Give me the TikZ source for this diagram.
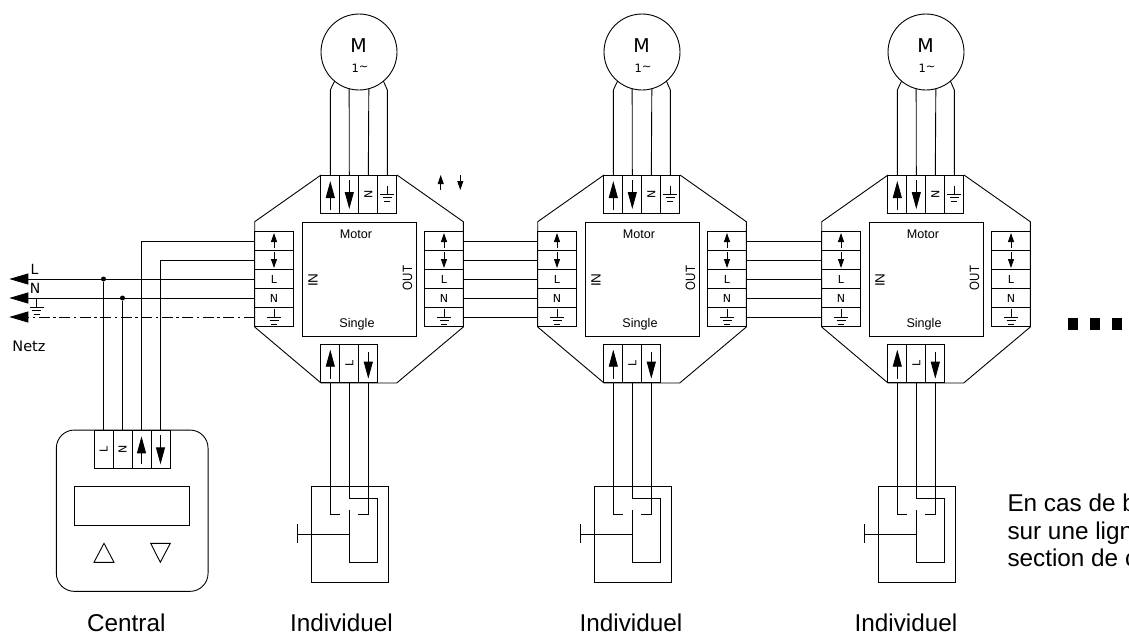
\documentclass[tikz,border=0pt]{standalone}
\usepackage{graphicx}
\usepackage{fontspec}
\setmainfont{Liberation Sans}
\newfontfamily\dejavu{DejaVu Sans}
\usetikzlibrary{arrows.meta,positioning}

\tikzset{
  wire/.style={line width=0.9pt},
  upsm/.style={line width=0.9pt,-{Triangle[length=9pt,width=6pt]}},
  upbig/.style={line width=0.9pt,-{Triangle[length=17pt,width=9pt]}},
  netarrow/.style={line width=0.9pt,-{Triangle[length=19pt,width=11pt]}},
  cellv/.style={draw,line width=0.9pt,inner sep=0pt,outer sep=0pt,minimum width=19pt,minimum height=38pt,font=\dejavu\fontsize{11}{11}\selectfont},
  cellh/.style={draw,line width=0.9pt,inner sep=0pt,outer sep=0pt,minimum width=38.6pt,minimum height=19pt,font=\dejavu\fontsize{11}{11}\selectfont},
  bigtxt/.style={inner sep=0pt,font=\fontsize{24.3}{27.7}\selectfont},
  boxtxt/.style={inner sep=0pt,font=\fontsize{12.6}{14}\selectfont},
  dejatxt/.style={inner sep=0pt,font=\dejavu\fontsize{#1}{#1}\selectfont},
  dotsq/.style={fill=black,inner sep=0pt,minimum width=10pt,minimum height=12pt},
  junction/.style={circle,fill=black,inner sep=0pt,minimum size=5pt}
}
\newcommand{\earthmark}[1]{
  \draw[wire] (#1)+(0,-8) -- +(0,0) +(-7,0) -- +(7,0) +(-4.5,3.5) -- +(4.5,3.5) +(-3,7) -- +(3,7);
}

\begin{document}
\begin{tikzpicture}[x=1pt,y=-1pt]
\useasboundingbox (0,0) rectangle (1129,643);

% Modules
\foreach \m/\dx/\lx in {1/0/341.5,2/283/348,3/567/339} {
\begin{scope}[shift={(\dx,0)}]
  % housing
  \draw[wire] (321,175) -- (254.7,221.7) -- (254.7,327) -- (321,383) -- (396.7,383) -- (463.3,327) -- (463.3,221.7) -- (397,175);
  \node[draw,line width=0.9pt,inner sep=0pt,outer sep=0pt,minimum size=114.4pt] (core\m) at (359.5,279.5) {};
  \node[boxtxt] (motor\m) at (356,234) {Motor};
  \node[boxtxt] (single\m) at (357,324) {Single};
  \node[boxtxt,rotate=90,font=\fontsize{13.5}{15}\selectfont] (inlab\m) at (313,280) {IN};
  \node[boxtxt,rotate=90,xscale=.85,font=\fontsize{13.5}{15}\selectfont] (outlab\m) at (407.5,278) {OUT};

  % motor
  \node[draw,circle,line width=0.9pt,inner sep=0pt,outer sep=0pt,minimum size=76pt] (mot\m) at (359,52) {};
  \node[dejatxt=19] (mlab\m) at (358.6,46) {M};
  \node[dejatxt=11.5] (mnum\m) at (360,68) {1\raisebox{1.5pt}{\char"007E}};

  % top terminal
  \foreach \k/\cx/\txt in {1/330.3/{},2/349.3/{},3/368.3/{\rotatebox{90}{N}},4/387.3/{}}
    \node[cellv] (top\m-\k) at (\cx,194) {\txt};
  \draw[upbig] (top\m-1)+(0,16) -- +(0,-13);
  \draw[upbig] (top\m-2)+(0,-14) -- +(0,15);
  \earthmark{top\m-4}
  \draw[wire] (top\m-1.north) -- ++(0,-85) -- (mot\m.-130);
  \draw[wire] (top\m-2.north) -- (mot\m.-105);
  \draw[wire] (top\m-3.north) -- (mot\m.-75);
  \draw[wire] (top\m-4.north) -- ++(0,-85) -- (mot\m.-50);

  % side terminals
  \foreach \r/\cy/\txt in {1/241/{},2/260/{},3/279/L,4/298/N,5/317/{}} {
    \node[cellh] (in\m-\r) at (274,\cy) {\txt};
    \node[cellh] (out\m-\r) at (444,\cy) {\txt};
  }
  \foreach \s in {in,out} {
    \draw[upsm] (\s\m-1)+(0,7) -- +(0,-8);
    \draw[upsm] (\s\m-2)+(0,-8) -- +(0,8);
    \earthmark{\s\m-5}
  }

  % bottom terminal
  \foreach \k/\cx/\txt in {1/330.3/{},2/349.3/{\rotatebox{90}{L}},3/368.3/{}}
    \node[cellv] (bot\m-\k) at (\cx,363.7) {\txt};
  \draw[upbig] (bot\m-1)+(0,15) -- +(0,-14);
  \draw[upbig] (bot\m-3)+(0,-12) -- +(0,15);

  % switch
  \node[draw,line width=0.9pt,inner sep=0pt,outer sep=0pt,minimum width=76.3pt,minimum height=96pt] (sw\m) at (349.9,534.3) {};
  \draw[wire] (bot\m-1.south) -- ++(0,132) -- ++(10,0);
  \draw[wire] (bot\m-3.south) -- ++(0,132) -- ++(-10,0);
  \draw[wire] (bot\m-2.south) -- (349.3,498.3) -- (377.7,498.3) -- (377.7,562.3) -- (349.3,562.3) -- (349.3,510);
  \draw[wire] (349.3,534.3) -- (297.3,534.3) (297.3,524) -- (297.3,543.3);
\end{scope}
\node[bigtxt] (ind\m) at (\lx+\dx,623) {Individuel};
}

% Links between modules
\foreach \m/\n in {1/2,2/3}
  \foreach \r in {1,...,5}
    \draw[wire] (out\m-\r.east) -- (in\n-\r.west);

% Central unit
\node[draw,line width=0.9pt,rounded corners=18pt,inner sep=0pt,outer sep=0pt,minimum width=151.7pt,minimum height=161.3pt] (central) at (132.2,510.7) {};
\foreach \k/\cx/\txt in {1/103.5/{\rotatebox{90}{L}},2/122.5/{\rotatebox{90}{N}},3/141.5/{},4/160.5/{}}
  \node[cellv] (cen\k) at (\cx,449.3) {\txt};
\draw[upbig] (cen3)+(0,15) -- +(0,-13);
\draw[upbig] (cen4)+(0,-14) -- +(0,15);
\node[draw,line width=0.9pt,inner sep=0pt,minimum width=115pt,minimum height=39.4pt] (display) at (132.2,506) {};
\draw[wire] (94,562.3) -- (114,562.3) -- (104,543.3) -- cycle;
\draw[wire] (150.7,543.3) -- (170.3,543.3) -- (160.3,562.3) -- cycle;
\node[bigtxt] (centlab) at (126.3,623) {Central};

% Mains
\coordinate (netL) at (9.3,279);
\coordinate (netN) at (9.3,298);
\coordinate (netE) at (9.3,317);
\draw[netarrow] (in1-3.west) -- (netL);
\draw[netarrow] (in1-4.west) -- (netN);
\draw[netarrow,dash pattern=on 11pt off 3.5pt on 2.5pt off 3.5pt] (in1-5.west) -- (netE);
\node[junction] (jL) at (103.5,279) {};
\node[junction] (jN) at (122.5,298) {};
\draw[wire] (cen1.north) -- (jL);
\draw[wire] (cen2.north) -- (jN);
\draw[wire] (cen3.north) |- (in1-1.west);
\draw[wire] (cen4.north) |- (in1-2.west);
\node[dejatxt=14] (labL) at (34.5,269) {L};
\node[dejatxt=14] (labN) at (35,288.5) {N};
\coordinate (labE) at (36.7,307);
\earthmark{labE}
\node[dejatxt=14.5] (netz) at (29,346.7) {Netz};

% Free legend arrows
\draw[upsm] (440.7,190) -- (440.7,175);
\draw[upsm] (460.3,175) -- (460.3,190);

% Continuation marks
\node[dotsq] (more1) at (1073.3,324) {};
\node[dotsq] (more2) at (1095,324) {};
\node[dotsq] (more3) at (1117,324) {};

% Note
\node[bigtxt,anchor=north west,align=left] (note) at (1007.3,493.5) {En cas de b\\sur une lign\\section de c};

\end{tikzpicture}
\end{document}
